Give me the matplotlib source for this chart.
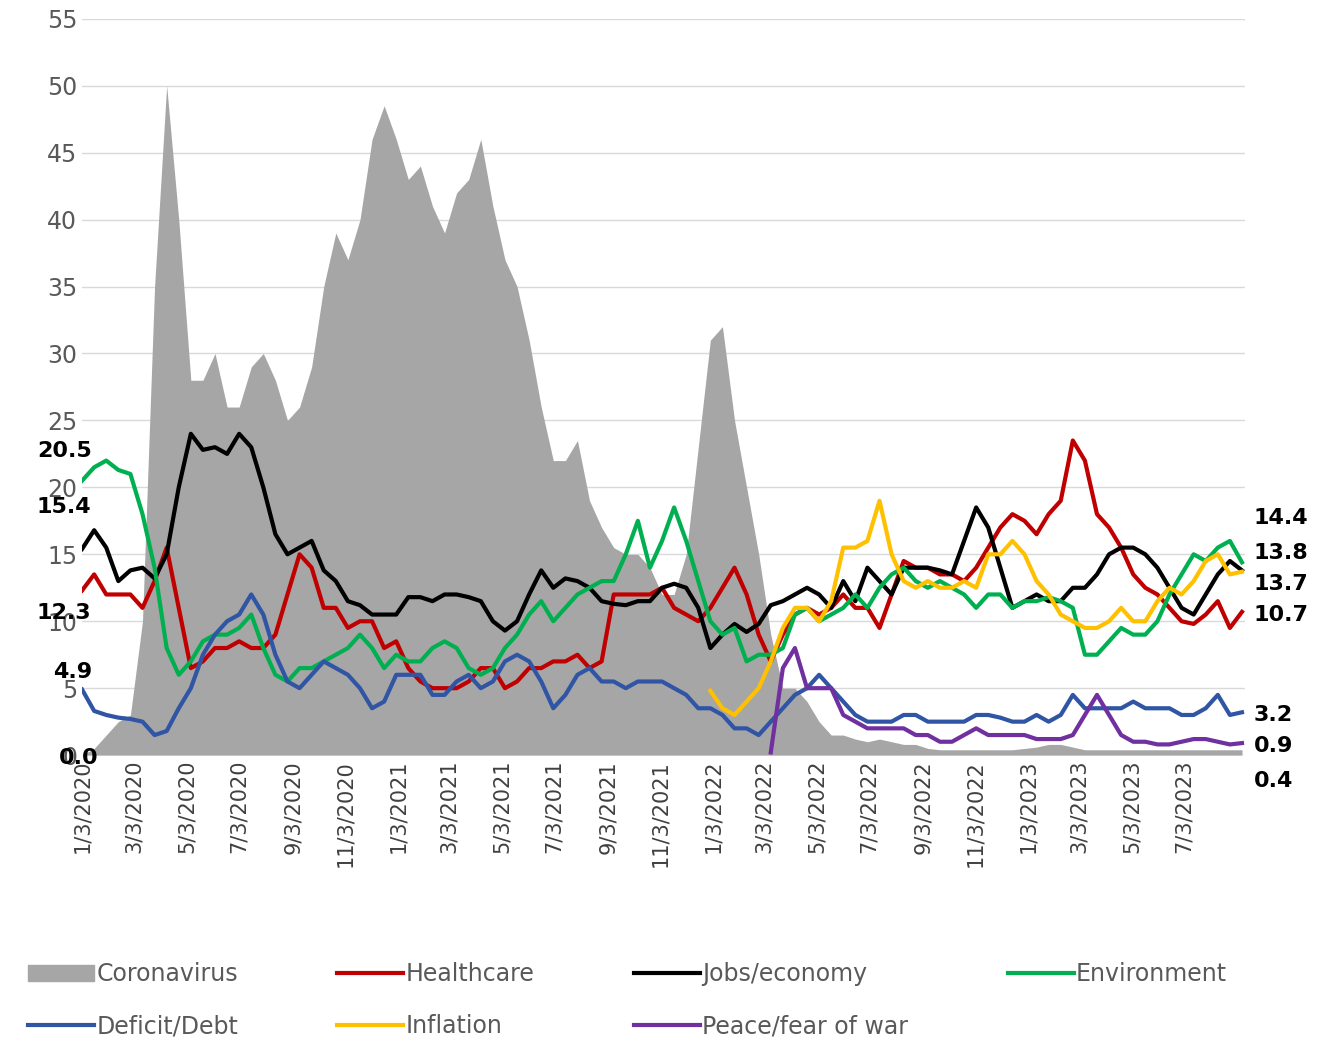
import numpy as np
import pandas as pd
import matplotlib
matplotlib.use("Agg")
import matplotlib.pyplot as plt
from matplotlib.patches import Patch
from matplotlib.lines import Line2D

# biweekly readings from 1/3/2020
dates = pd.date_range("2020-01-03", periods=97, freq="14D")

coronavirus = [0, 0.5, 1.5, 2.5, 3, 10, 35, 50, 40, 28, 28, 30, 26, 26, 29, 30, 28, 25, 26, 29,
               35, 39, 37, 40, 46, 48.5, 46, 43, 44, 41, 39, 42, 43, 46, 41, 37, 35, 31, 26, 22,
               22, 23.5, 19, 17, 15.5, 15, 15, 14, 12, 12, 15, 23, 31, 32, 25, 20, 15, 9, 5, 5,
               4, 2.5, 1.5, 1.5, 1.2, 1, 1.2, 1, 0.8, 0.8, 0.5, 0.4, 0.4, 0.4, 0.4, 0.4, 0.4, 0.4, 0.5, 0.6,
               0.8, 0.8, 0.6, 0.4, 0.4, 0.4, 0.4, 0.4, 0.4, 0.4, 0.4, 0.4, 0.4, 0.4, 0.4, 0.4, 0.4]

jobs = [15.4, 16.8, 15.5, 13, 13.8, 14, 13.2, 15, 20, 24, 22.8, 23, 22.5, 24, 23, 20, 16.5, 15, 15.5, 16,
        13.8, 13, 11.5, 11.2, 10.5, 10.5, 10.5, 11.8, 11.8, 11.5, 12, 12, 11.8, 11.5, 10, 9.3, 10, 12, 13.8, 12.5,
        13.2, 13, 12.5, 11.5, 11.3, 11.2, 11.5, 11.5, 12.5, 12.8, 12.5, 11, 8, 9, 9.8, 9.2, 9.8, 11.2, 11.5, 12,
        12.5, 12, 11, 13, 11.5, 14, 13, 12, 14, 14, 14, 13.8, 13.5, 16, 18.5, 17, 14, 11, 11.5, 12,
        11.5, 11.5, 12.5, 12.5, 13.5, 15, 15.5, 15.5, 15, 14, 12.5, 11, 10.5, 12, 13.5, 14.5, 13.8]

healthcare = [12.3, 13.5, 12, 12, 12, 11, 13, 15.5, 11, 6.5, 7, 8, 8, 8.5, 8, 8, 9, 12, 15, 14,
              11, 11, 9.5, 10, 10, 8, 8.5, 6.5, 5.5, 5, 5, 5, 5.5, 6.5, 6.5, 5, 5.5, 6.5, 6.5, 7,
              7, 7.5, 6.5, 7, 12, 12, 12, 12, 12.5, 11, 10.5, 10, 11, 12.5, 14, 12, 9, 7, 9, 10.5,
              11, 10.5, 11, 12, 11, 11, 9.5, 12, 14.5, 14, 14, 13.5, 13.5, 13, 14, 15.5, 17, 18, 17.5, 16.5,
              18, 19, 23.5, 22, 18, 17, 15.5, 13.5, 12.5, 12, 11, 10, 9.8, 10.5, 11.5, 9.5, 10.7]

environment = [20.5, 21.5, 22, 21.3, 21, 18, 14, 8, 6, 7, 8.5, 9, 9, 9.5, 10.5, 8, 6, 5.5, 6.5, 6.5,
               7, 7.5, 8, 9, 8, 6.5, 7.5, 7, 7, 8, 8.5, 8, 6.5, 6, 6.5, 8, 9, 10.5, 11.5, 10,
               11, 12, 12.5, 13, 13, 15, 17.5, 14, 16, 18.5, 16, 13, 10, 9, 9.5, 7, 7.5, 7.5, 8, 10.5,
               11, 10, 10.5, 11, 12, 11, 12.5, 13.5, 14, 13, 12.5, 13, 12.5, 12, 11, 12, 12, 11, 11.5, 11.5,
               11.8, 11.5, 11, 7.5, 7.5, 8.5, 9.5, 9, 9, 10, 12, 13.5, 15, 14.5, 15.5, 16, 14.4]

deficit = [4.9, 3.3, 3, 2.8, 2.7, 2.5, 1.5, 1.8, 3.5, 5, 7.5, 9, 10, 10.5, 12, 10.5, 7.5, 5.5, 5, 6,
           7, 6.5, 6, 5, 3.5, 4, 6, 6, 6, 4.5, 4.5, 5.5, 6, 5, 5.5, 7, 7.5, 7, 5.5, 3.5,
           4.5, 6, 6.5, 5.5, 5.5, 5, 5.5, 5.5, 5.5, 5, 4.5, 3.5, 3.5, 3, 2, 2, 1.5, 2.5, 3.5, 4.5,
           5, 6, 5, 4, 3, 2.5, 2.5, 2.5, 3, 3, 2.5, 2.5, 2.5, 2.5, 3, 3, 2.8, 2.5, 2.5, 3,
           2.5, 3, 4.5, 3.5, 3.5, 3.5, 3.5, 4, 3.5, 3.5, 3.5, 3, 3, 3.5, 4.5, 3, 3.2]

inflation_start = 52
inflation = [4.8, 3.5, 3, 4, 5, 7, 9.5, 11, 11, 10, 11.5, 15.5, 15.5, 16, 19, 15, 13, 12.5, 13, 12.5,
             12.5, 13, 12.5, 15, 15, 16, 15, 13, 12, 10.5, 10, 9.5, 9.5, 10, 11, 10, 10, 11.5, 12.5, 12,
             13, 14.5, 15, 13.5, 13.7]

peace_start = 57
peace = [0.2, 6.5, 8, 5, 5, 5, 3, 2.5, 2, 2, 2, 2, 1.5, 1.5, 1, 1, 1.5, 2, 1.5, 1.5,
         1.5, 1.5, 1.2, 1.2, 1.2, 1.5, 3, 4.5, 3, 1.5, 1, 1, 0.8, 0.8, 1, 1.2, 1.2, 1, 0.8, 0.9]

left_labels = ["20.5", "15.4", "12.3", "4.9", "0.0"]
left_y = [22.7, 18.5, 10.6, 6.2, -0.2]
left_x = [-0.039, -0.039, -0.039, -0.025, -0.02]
right_labels = ["14.4", "13.8", "13.7", "10.7", "3.2", "0.9", "0.4"]
right_y = [17.7, 15.1, 12.8, 10.5, 3.0, 0.7, -1.9]

fig = plt.figure(figsize=(13.24, 10.43), dpi=100)
ax = fig.add_axes([0.062, 0.276, 0.878, 0.706])

ax.fill_between(dates, coronavirus, color="#a6a6a6", lw=0)
lw = 3
ax.plot(dates, healthcare, color="#c00000", lw=lw)
ax.plot(dates, jobs, color="black", lw=lw)
ax.plot(dates, environment, color="#00b050", lw=lw)
ax.plot(dates, deficit, color="#2f55a4", lw=lw)
ax.plot(dates[inflation_start:], inflation, color="#ffc000", lw=lw)
ax.plot(dates[peace_start:], peace, color="#7030a0", lw=lw)

ax.set_ylim(0, 55)
ax.set_yticks(range(0, 56, 5))
ax.set_xlim(dates[0], dates[-1] + pd.Timedelta(days=3))
ticks = pd.date_range("2020-01-01", "2023-07-03", freq="2MS") + pd.Timedelta(days=2)
ax.set_xticks(ticks)
ax.set_xticklabels([f"{d.month}/{d.day}/{d.year}" for d in ticks], rotation=90, fontsize=15)
ax.tick_params(axis="y", labelsize=17, labelcolor="#595959", length=0)
ax.tick_params(axis="x", length=0, labelcolor="#404040")
ax.grid(axis="y", color="#d9d9d9", lw=1)
ax.set_axisbelow(True)
for s in ax.spines.values():
    s.set_visible(False)

for t, x, y in zip(left_labels, left_x, left_y):
    ax.text(x, y, t, transform=ax.get_yaxis_transform(), ha="left", va="center",
            fontsize=16, fontweight="bold")
for t, y in zip(right_labels, right_y):
    ax.text(1.008, y, t, transform=ax.get_yaxis_transform(), ha="left", va="center",
            fontsize=16, fontweight="bold")

handles = [Patch(color="#a6a6a6", label="Coronavirus"),
           Line2D([], [], color="#2f55a4", lw=lw, label="Deficit/Debt"),
           Line2D([], [], color="#c00000", lw=lw, label="Healthcare"),
           Line2D([], [], color="#ffc000", lw=lw, label="Inflation"),
           Line2D([], [], color="black", lw=lw, label="Jobs/economy"),
           Line2D([], [], color="#7030a0", lw=lw, label="Peace/fear of war"),
           Line2D([], [], color="#00b050", lw=lw, label="Environment")]
leg = fig.legend(handles=handles, ncol=4, loc="lower left", bbox_to_anchor=(0.005, -0.016),
                 frameon=False, fontsize=17, handlelength=2.8, handletextpad=0.1,
                 columnspacing=4.2, labelspacing=1.2)
for t in leg.get_texts():
    t.set_color("#595959")

fig.savefig("out.png", dpi=100)
